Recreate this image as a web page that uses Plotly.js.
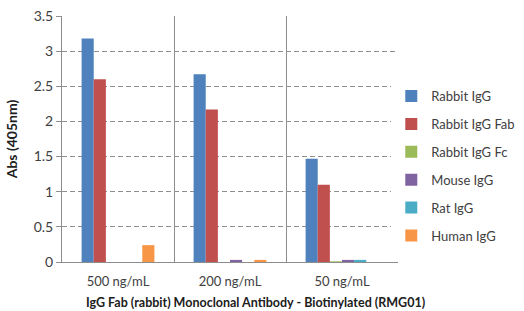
<!DOCTYPE html>
<html><head><meta charset="utf-8">
<script src="https://cdn.plot.ly/plotly-3.0.1.min.js"></script>
<style>html,body{margin:0;padding:0;background:#fff}#chart{width:524px;height:311px}</style>
</head><body><div id="chart"></div>
<script>
const categories = ["500 ng/mL", "200 ng/mL", "50 ng/mL"];
const seriesNames = ["Rabbit IgG", "Rabbit IgG Fab", "Rabbit IgG Fc", "Mouse IgG", "Rat IgG", "Human IgG"];
const rabbitIgG = [3.18, 2.67, 1.47];
const rabbitIgGFab = [2.60, 2.17, 1.10];
const rabbitIgGFc = [0.0, 0.0, 0.01];
const mouseIgG = [0.0, 0.03, 0.03];
const ratIgG = [0.0, 0.0, 0.03];
const humanIgG = [0.24, 0.03, 0.0];
const yTicks = [0, 0.5, 1, 1.5, 2, 2.5, 3, 3.5];
const yTickText = ["0", "0.5", "1", "1.5", "2", "2.5", "3", "3.5"];
const xTitle = "IgG Fab (rabbit) Monoclonal Antibody - Biotinylated (RMG01)";
const yTitle = "Abs (405nm)";
const colors = ["#4F81BD", "#C0504D", "#9BBB59", "#8064A2", "#4BACC6", "#F79646"];
const values = [rabbitIgG, rabbitIgGFab, rabbitIgGFc, mouseIgG, ratIgG, humanIgG];

const traces = seriesNames.map((n, i) => ({
  type: "bar", name: n, x: categories, y: values[i],
  marker: {color: colors[i]}, legendgroup: "g" + i
}));

const layout = {
  width: 524, height: 311,
  margin: {l: 62, r: 126, t: 16, b: 49, autoexpand: false},
  paper_bgcolor: "#fff", plot_bgcolor: "#fff",
  font: {family: "Lato, 'Open Sans', sans-serif", color: "#404040"},
  barmode: "group", bargap: 0.35, bargroupgap: 0,
  showlegend: true,
  legend: {x: 0.98, xanchor: "left", y: 0.39, yanchor: "middle",
    font: {size: 13, color: "#404040"}, traceorder: "grouped", tracegroupgap: 8,
    itemwidth: 30},
  xaxis: {type: "category", tickson: "boundaries", showgrid: true, gridcolor: "#8c8c8c", gridwidth: 1,
    ticks: "", showline: true, linecolor: "#8c8c8c", tickfont: {size: 13, color: "#404040"},
    ticklabelstandoff: 7, zeroline: false, automargin: false},
  yaxis: {range: [0, 3.5], tickvals: yTicks, ticktext: yTickText, showgrid: true, gridcolor: "#8f8f8f",
    griddash: "5px,3px", ticks: "outside", ticklen: 5, tickcolor: "#8f8f8f", showline: true, linecolor: "#8c8c8c",
    tickfont: {size: 14, color: "#404040"}, zeroline: false, automargin: false,
    title: {text: "<b>" + yTitle + "</b>", font: {size: 14, color: "#202020"}, standoff: 12}},
  annotations: [{text: "<b>" + xTitle + "</b>", xref: "paper", yref: "paper", x: 0.575, y: -0.165,
    xanchor: "center", yanchor: "middle", showarrow: false, font: {size: 12.5, color: "#202020"}}]
};
Plotly.newPlot("chart", traces, layout, {displayModeBar: false, staticPlot: true});
</script></body></html>
